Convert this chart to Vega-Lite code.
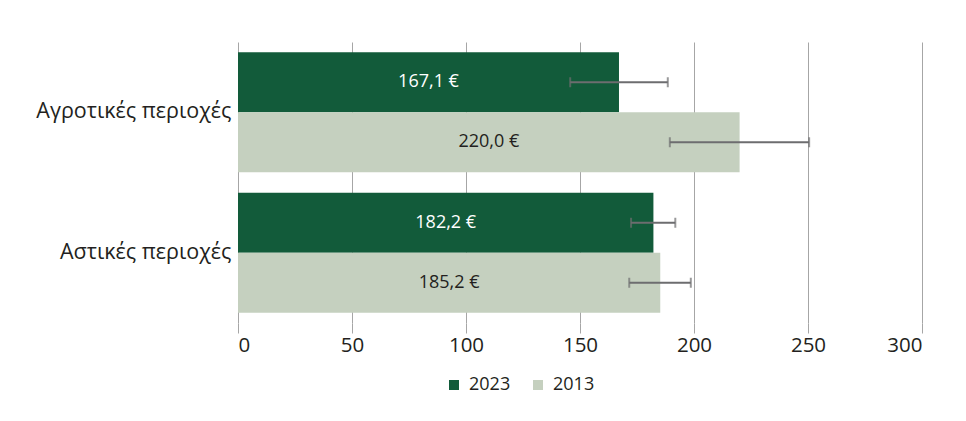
{
  "$schema": "https://vega.github.io/schema/vega-lite/v6.json",
  "width": 684,
  "height": 281,
  "autosize": "none",
  "padding": {"left": 238, "top": 42, "right": 44, "bottom": 98},
  "background": "white",
  "config": {
    "view": {"stroke": null},
    "font": "Open Sans",
    "locale": {"number": {"decimal": ",", "thousands": ".", "grouping": [3], "currency": ["", " €"]}}
  },
  "data": {"values": [
    {"region": "Αγροτικές περιοχές", "year": "2023", "value": 167.1, "lo": 145.7, "hi": 188.5},
    {"region": "Αγροτικές περιοχές", "year": "2013", "value": 220.0, "lo": 189.4, "hi": 250.5},
    {"region": "Αστικές περιοχές", "year": "2023", "value": 182.2, "lo": 172.4, "hi": 191.8},
    {"region": "Αστικές περιοχές", "year": "2013", "value": 185.2, "lo": 171.6, "hi": 198.6}
  ]},
  "transform": [{"calculate": "datum.value / 2", "as": "mid"}],
  "encoding": {
    "y": {
      "field": "region", "type": "nominal", "sort": null,
      "scale": {"paddingInner": 0.146, "paddingOuter": 0.073},
      "axis": {"title": null, "domain": false, "ticks": false, "labelFontSize": 21.5, "labelColor": "#231f20", "labelPadding": 7, "labelLimit": 300, "labelFont": "Open Sans"}
    },
    "yOffset": {"field": "year", "type": "nominal", "sort": ["2023", "2013"], "scale": {"paddingInner": 0, "paddingOuter": 0}}
  },
  "layer": [
    {
      "mark": {"type": "bar", "strokeWidth": 0},
      "encoding": {
        "x": {
          "field": "value", "type": "quantitative",
          "scale": {"domain": [0, 300], "nice": false},
          "axis": {"title": null, "values": [0, 50, 100, 150, 200, 250, 300], "grid": true, "gridColor": "#a6a6a6", "gridWidth": 1, "domain": false, "ticks": true, "tickSize": 10, "tickColor": "#a6a6a6", "labelFontSize": 20.5, "labelColor": "#231f20", "labelPadding": 2, "labelFont": "Open Sans"}
        },
        "color": {
          "field": "year", "type": "nominal",
          "scale": {"domain": ["2023", "2013"], "range": ["#125b3a", "#c5d0bf"]},
          "legend": {"orient": "none", "legendX": 207, "legendY": 334, "direction": "horizontal", "title": null, "symbolType": "square", "symbolSize": 100, "symbolStrokeWidth": 0, "labelFontSize": 18, "labelColor": "#231f20", "labelOffset": 6, "columnPadding": 18, "padding": 0, "labelFont": "Open Sans"}
        }
      }
    },
    {
      "mark": {"type": "text", "fontSize": 18, "align": "center", "baseline": "middle"},
      "encoding": {
        "x": {"field": "mid", "type": "quantitative"},
        "text": {"field": "value", "type": "quantitative", "format": "$.1f"},
        "color": {"condition": {"test": "datum.year === '2023'", "value": "#ffffff"}, "value": "#231f20"}
      }
    },
    {
      "mark": {"type": "rule", "color": "#6d6d6f", "strokeWidth": 2},
      "encoding": {
        "x": {"field": "lo", "type": "quantitative"},
        "x2": {"field": "hi"}
      }
    },
    {
      "mark": {"type": "tick", "color": "#6d6d6f", "size": 10, "thickness": 2},
      "encoding": {"x": {"field": "lo", "type": "quantitative"}}
    },
    {
      "mark": {"type": "tick", "color": "#6d6d6f", "size": 10, "thickness": 2},
      "encoding": {"x": {"field": "hi", "type": "quantitative"}}
    }
  ]
}
